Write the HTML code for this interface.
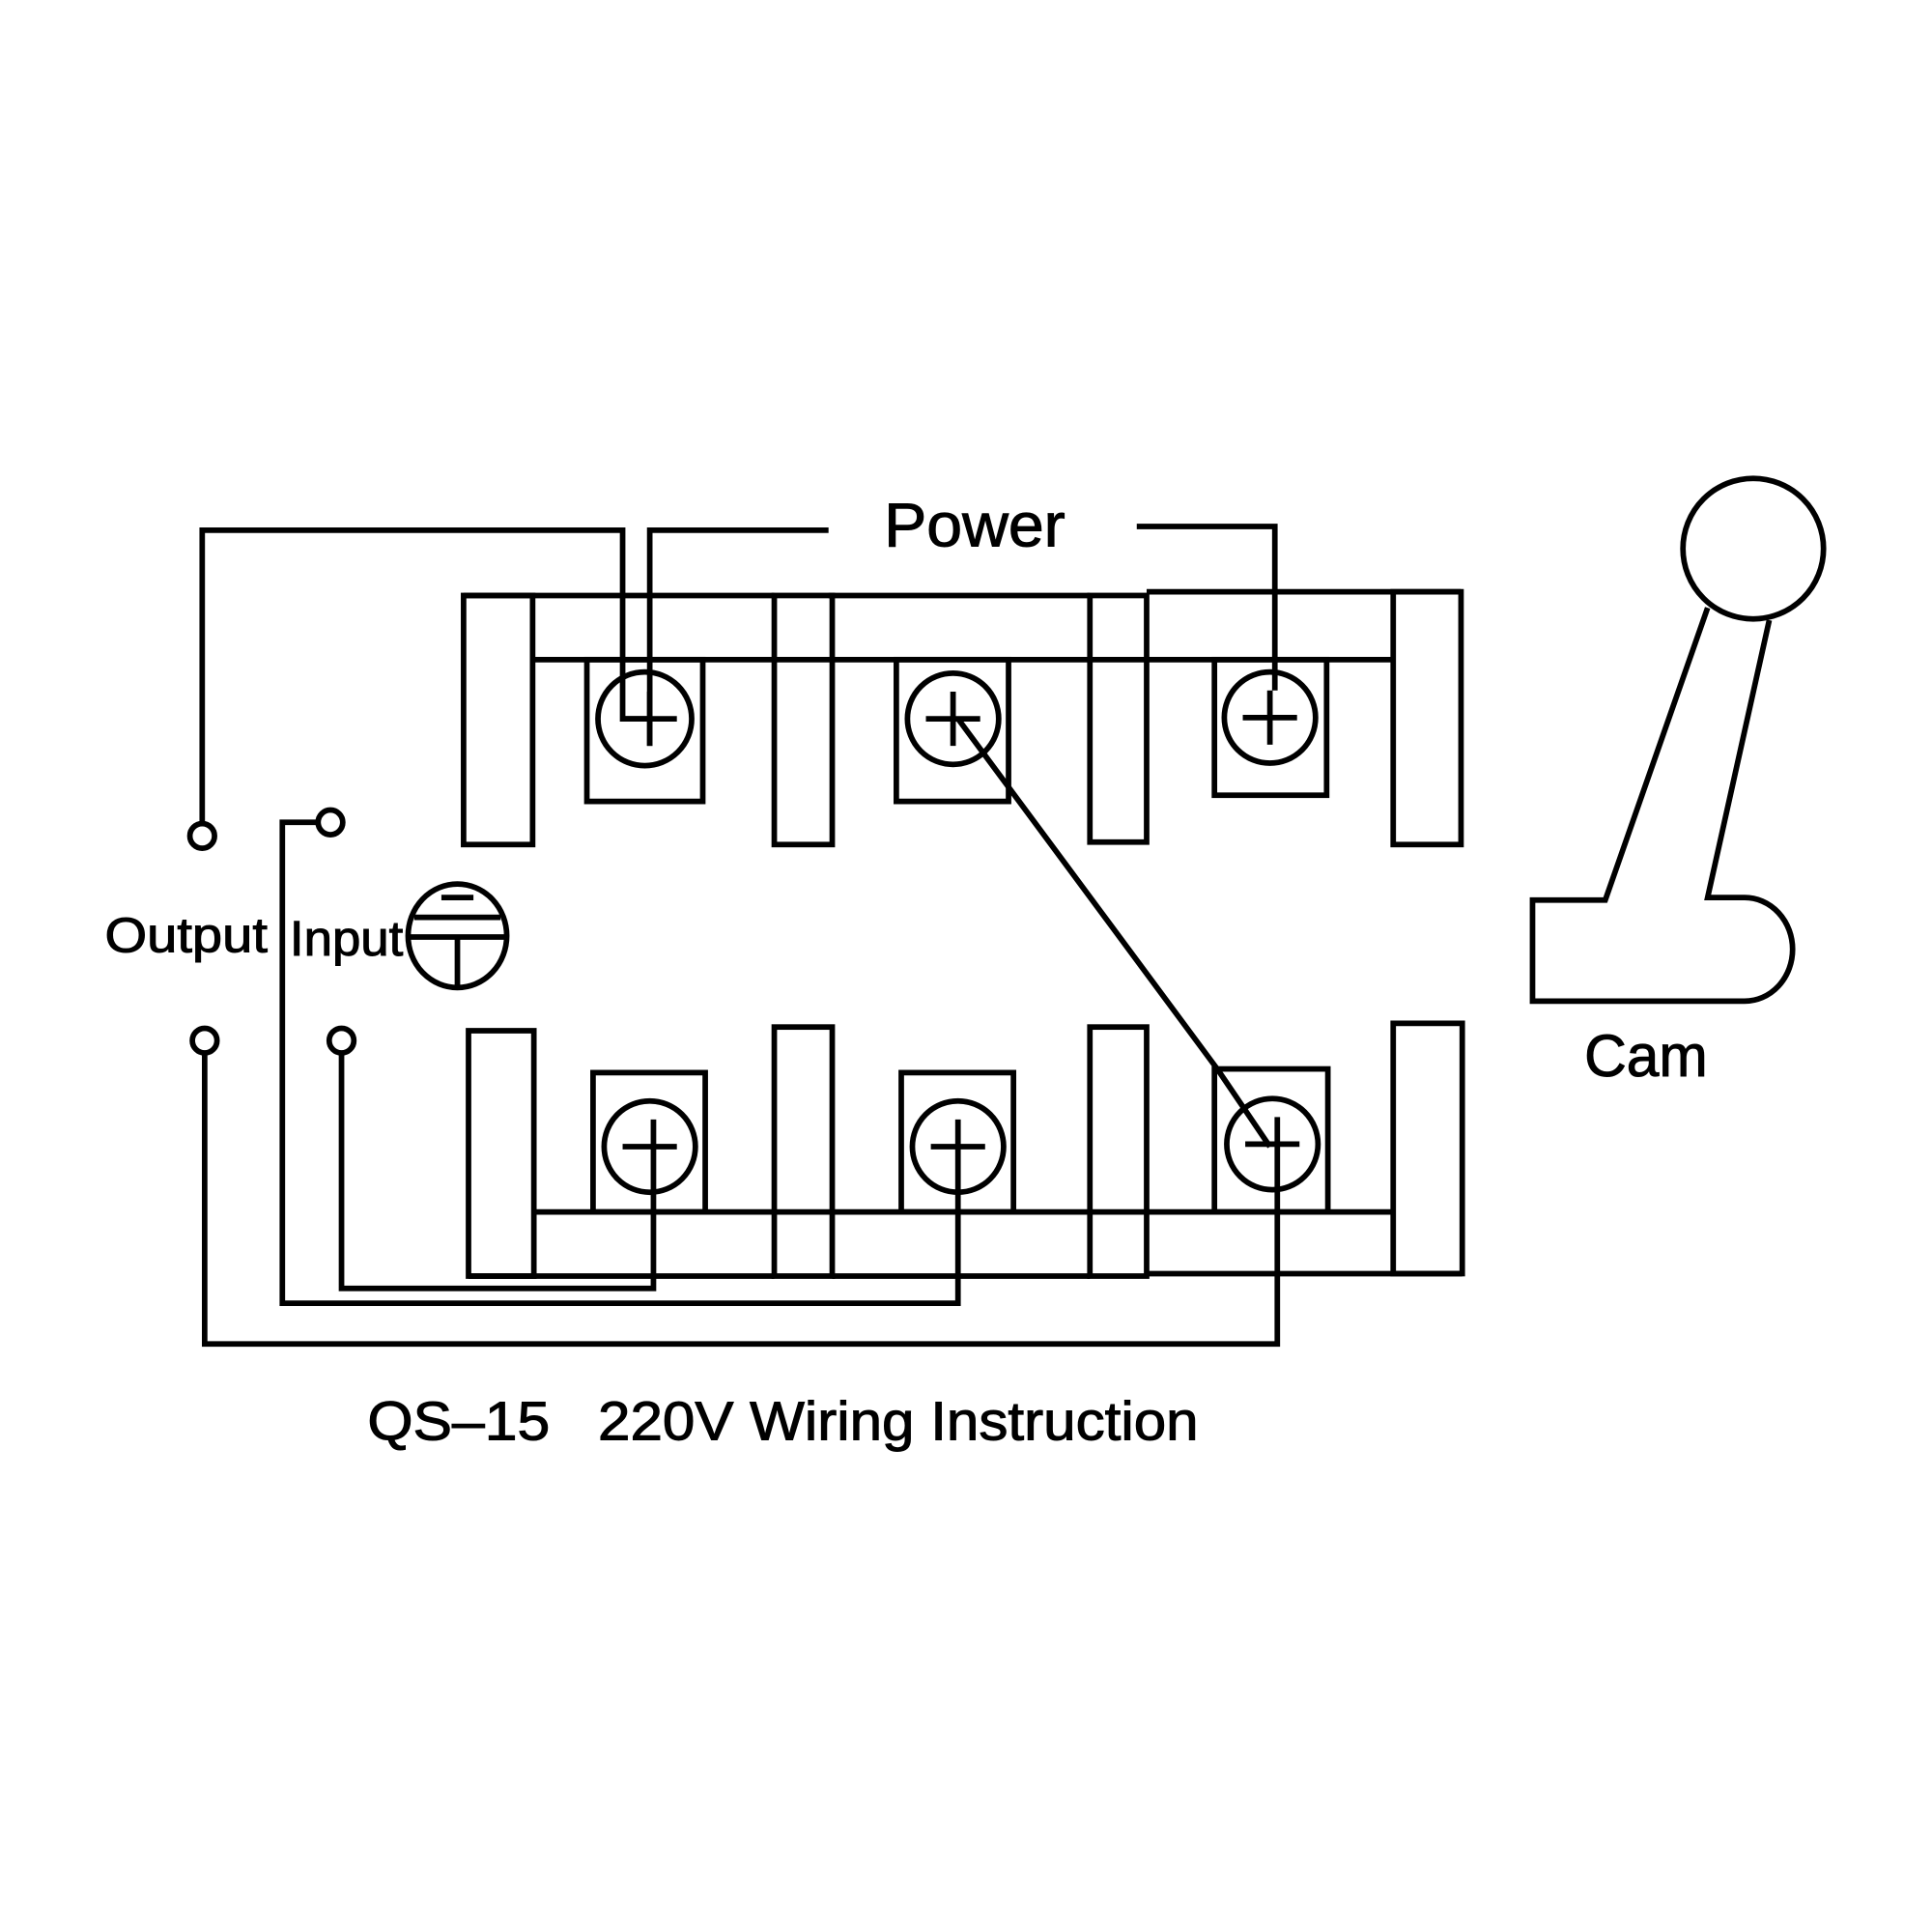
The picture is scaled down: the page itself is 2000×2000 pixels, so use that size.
<!DOCTYPE html>
<html><head><style>html,body{margin:0;padding:0;background:#fff}svg{display:block}</style></head>
<body>
<svg width="2000" height="2000" viewBox="0 0 1567 1567" xmlns="http://www.w3.org/2000/svg">
<g fill="none" stroke="#000" stroke-width="4.5">
<line x1="376" y1="483" x2="628" y2="483"/><line x1="672" y1="483" x2="884" y2="483"/><line x1="930" y1="480" x2="1185" y2="480"/>
<line x1="432" y1="535" x2="1130" y2="535"/>
<rect x="376" y="483" width="56" height="202"/><rect x="628" y="483" width="47" height="202"/>
<rect x="884" y="483" width="46" height="200"/><rect x="1130" y="480" width="55" height="205"/>
<rect x="476" y="535" width="94" height="115"/><rect x="727" y="535" width="91" height="115"/><rect x="985" y="535" width="91" height="110"/>
<circle cx="523" cy="583" r="38"/><circle cx="773" cy="583" r="37"/><circle cx="1030" cy="582" r="37"/>
<path d="M527 561V605M505 583H549M773 561V605M751 583H795M1030 560V604M1008 582H1052"/>
<rect x="380" y="836" width="53" height="199"/><rect x="628" y="833" width="47" height="202"/>
<rect x="884" y="833" width="46" height="202"/><rect x="1130" y="830" width="56" height="203"/>
<line x1="433" y1="983" x2="1130" y2="983"/>
<line x1="380" y1="1035" x2="628" y2="1035"/><line x1="675" y1="1035" x2="884" y2="1035"/><line x1="930" y1="1033" x2="1186" y2="1033"/>
<rect x="481" y="870" width="91" height="113"/><rect x="731" y="870" width="91" height="113"/><rect x="985" y="867" width="92" height="116"/>
<circle cx="527" cy="930" r="37"/><circle cx="777" cy="930" r="37"/><circle cx="1032" cy="928" r="37"/>
<path d="M505 930H549M755 930H799M1010 928H1054"/>
<path d="M672 430H527V605"/>
<path d="M164 667V430H505V583H527"/>
<path d="M922 427H1034V560"/>
<path d="M777 583L988 868L1030 930"/>
<path d="M258 667H229V1057H777V908"/>
<path d="M166 854V1090H1036V906"/>
<path d="M277 854V1045H530V908"/>
<circle cx="164" cy="678" r="10"/><circle cx="268" cy="667" r="10"/>
<circle cx="166" cy="844" r="10"/><circle cx="277" cy="844" r="10"/>
<ellipse cx="371" cy="759" rx="40" ry="42"/>
<path d="M358 728H384M336 744H406M332 760H410M371 760V800"/>
<circle cx="1422" cy="445" r="57"/>
<path d="M1385 493L1302 730H1243V812H1415A38 41 0 0 0 1415 728H1385L1435 503"/>
</g>
<g font-family="Liberation Sans, sans-serif" fill="#000" stroke="#000" stroke-width="0.8">
<text x="717" y="443" font-size="50" textLength="147" lengthAdjust="spacingAndGlyphs">Power</text>
<text x="85" y="772" font-size="40" textLength="132" lengthAdjust="spacingAndGlyphs">Output</text>
<text x="235" y="775" font-size="40" textLength="92" lengthAdjust="spacingAndGlyphs">Input</text>
<text x="1285" y="873" font-size="48" textLength="100" lengthAdjust="spacingAndGlyphs">Cam</text>
<text x="298" y="1168" font-size="44" textLength="148" lengthAdjust="spacingAndGlyphs">QS–15</text>
<text x="485" y="1168" font-size="44" textLength="487" lengthAdjust="spacingAndGlyphs">220V Wiring Instruction</text>
</g>
</svg>
</body></html>
